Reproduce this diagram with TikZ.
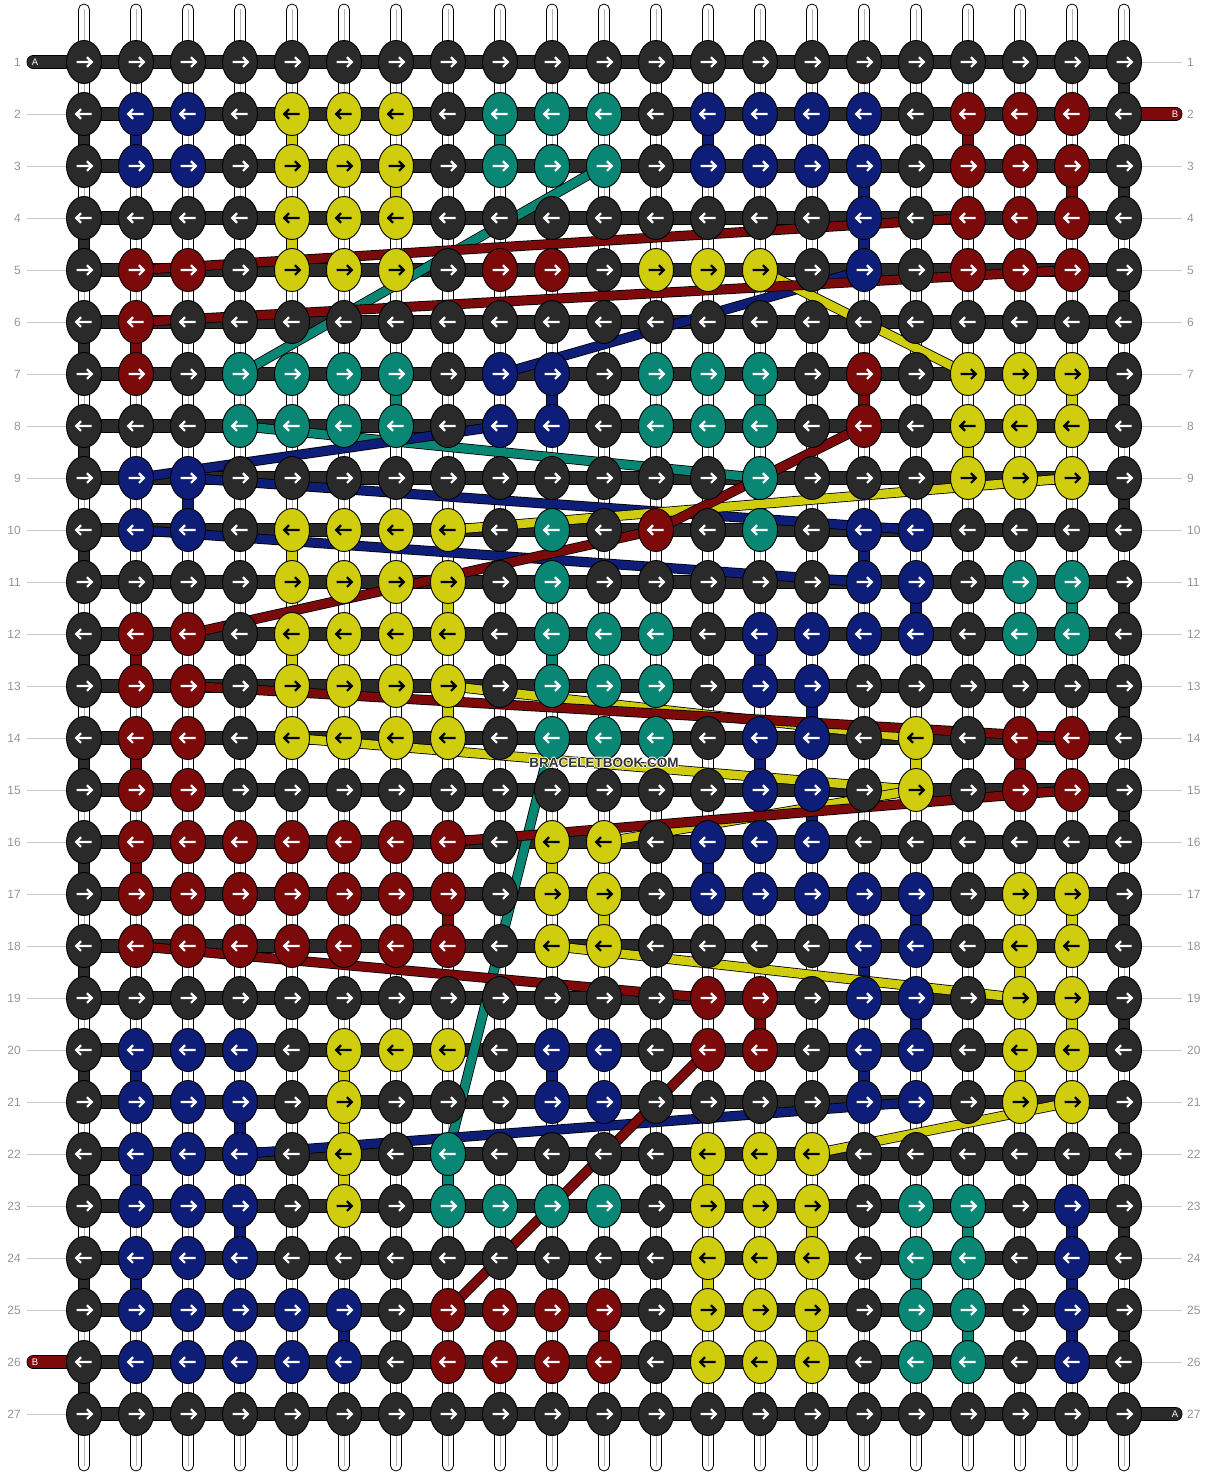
\documentclass[tikz,border=0pt]{standalone}
\usepackage{fontspec}
\setmainfont{Liberation Sans}
\usepackage{xstring}
\usetikzlibrary{shapes.geometric}
\definecolor{cK}{RGB}{42,42,42}
\definecolor{cB}{RGB}{14,30,120}
\definecolor{cY}{RGB}{208,204,14}
\definecolor{cT}{RGB}{10,134,116}
\definecolor{cR}{RGB}{124,10,10}
\colorlet{aK}{white}\colorlet{aB}{white}\colorlet{aT}{white}\colorlet{aR}{white}\colorlet{aY}{black}
\definecolor{lblc}{RGB}{150,150,150}
\definecolor{llc}{RGB}{200,200,200}
\begin{document}
\begin{tikzpicture}[x=1pt,y=-1pt,
  knot/.style={ellipse,draw=black,line width=0.9pt,minimum width=35pt,minimum height=43pt,inner sep=0pt},
  hbar/.style={fill=cK,draw=black,line width=0.7pt},
  vseg/.style={fill=#1,draw=black,line width=0.7pt},
  diag/.style={draw=black,line width=0.8pt,double=#1,double distance=8.5pt},
  arr/.style={line width=2.2pt,line join=miter},
  lbl/.style={text=lblc,font=\fontsize{12}{12}\selectfont,inner sep=0pt},
  lline/.style={draw=llc,line width=0.9pt},
  stub/.style={fill=#1,draw=black,line width=0.7pt,rounded corners=6pt},
  stubtxt/.style={text=white,font=\fontsize{9.5}{9.5}\selectfont,inner sep=0pt}]
\fill[white] (0,0) rectangle (1208,1476);
\useasboundingbox (0,0) rectangle (1208,1476);
% grid coordinates
\foreach \r in {1,...,27}{\foreach \c in {1,...,21}{
  \coordinate (p-\r-\c) at ({84+52*(\c-1)},{62+52*(\r-1)});}}
% vertical white strings
\foreach \c in {1,...,21}{
  \pgfmathsetmacro\xx{84+52*(\c-1)}
  \draw[fill=white,draw=black,line width=0.8pt,rounded corners=5.5pt] (\xx-5.5,4) rectangle (\xx+5.5,1471);
  \draw[black!30,line width=1pt] (\xx+0.8,9) -- (\xx+0.8,1466);
}
% row labels and guide lines
\foreach \r in {1,...,27}{
  \pgfmathsetmacro\yy{62+52*(\r-1)}
  \node[lbl,anchor=east] (ln-\r) at (21,\yy) {\r};
  \node[lbl,anchor=west] (rn-\r) at (1187,\yy) {\r};
}
\foreach \r in {2,...,25,27}{\pgfmathsetmacro\yy{62+52*(\r-1)}\draw[lline] (27,\yy) -- (66,\yy);}
\foreach \r in {1,3,4,...,26}{\pgfmathsetmacro\yy{62+52*(\r-1)}\draw[lline] (1142,\yy) -- (1182,\yy);}
% stubs A / B
\draw[stub=cK] (27,55.5) rectangle (80,68.5);
\node[stubtxt] (sA1) at (35,62.5) {A};
\draw[stub=cR] (1128,107.5) rectangle (1182,120.5);
\node[stubtxt] (sB1) at (1175,114.5) {B};
\draw[stub=cR] (27,1355.5) rectangle (80,1368.5);
\node[stubtxt] (sB2) at (35,1362.5) {B};
\draw[stub=cK] (1128,1407.5) rectangle (1182,1420.5);
\node[stubtxt] (sA2) at (1175,1414.5) {A};
% horizontal strings
\foreach \r in {1,...,27}{
  \draw[hbar] ([yshift=6.5pt]p-\r-1) rectangle ([yshift=-6.5pt]p-\r-21);}
% edge turns of background string
\foreach \r in {1,3,...,25}{\pgfmathtruncatemacro\rn{\r+1}
  \draw[vseg=cK] ([xshift=-5.5pt]p-\r-21) rectangle ([xshift=5.5pt]p-\rn-21);}
\foreach \r in {2,4,...,26}{\pgfmathtruncatemacro\rn{\r+1}
  \draw[vseg=cK] ([xshift=-5.5pt]p-\r-1) rectangle ([xshift=5.5pt]p-\rn-1);}
% coloured vertical passes
\foreach \c/\r/\cl in {2/2/B,13/2/B,16/3/B,16/4/B,10/7/B,3/9/B,16/10/B,17/11/B,14/12/B,15/13/B,14/14/B,15/15/B,13/16/B,17/17/B,16/18/B,17/19/B,2/20/B,10/20/B,16/20/B,4/21/B,2/22/B,4/23/B,20/23/B,2/24/B,20/24/B,6/25/B,20/25/B,
  9/2/T,7/7/T,14/7/T,14/9/T,10/10/T,20/11/T,10/12/T,12/13/T,8/22/T,18/23/T,17/24/T,18/25/T,
  5/2/Y,7/3/Y,5/4/Y,20/7/Y,18/8/Y,5/10/Y,8/11/Y,5/12/Y,8/13/Y,17/14/Y,10/16/Y,11/17/Y,20/17/Y,19/18/Y,20/19/Y,6/20/Y,19/20/Y,6/21/Y,6/22/Y,13/22/Y,15/23/Y,13/24/Y,15/25/Y,
  18/2/R,20/3/R,2/6/R,16/7/R,2/12/R,2/14/R,19/14/R,2/16/R,8/17/R,14/19/R,11/25/R}{
  \pgfmathtruncatemacro\rn{\r+1}
  \draw[vseg=c\cl] ([xshift=-5.5pt]p-\r-\c) rectangle ([xshift=5.5pt]p-\rn-\c);}
% hidden diagonal carries
\foreach \a/\b/\cl in {3-11/7-4/T,8-4/9-14/T,14-10/22-8/T,
  5-16/7-9/B,8-9/9-2/B,9-3/10-17/B,10-2/11-16/B,21-17/22-4/B,
  5-14/7-18/Y,9-20/10-8/Y,13-8/14-17/Y,14-5/15-17/Y,15-17/16-11/Y,18-10/19-19/Y,21-20/22-15/Y,
  4-18/5-2/R,5-20/6-2/R,8-16/10-12/R,10-12/12-3/R,13-3/14-20/R,15-20/16-8/R,18-2/19-13/R,20-13/25-8/R}{
  \draw[diag=c\cl] (p-\a) -- (p-\b);}
% knots
\foreach \r/\s in {
1/KKKKKKKKKKKKKKKKKKKKK,
2/KBBKYYYKTTTKBBBBKRRRK,
3/KBBKYYYKTTTKBBBBKRRRK,
4/KKKKYYYKKKKKKKKBKRRRK,
5/KRRKYYYKRRKYYYKBKRRRK,
6/KRKKKKKKKKKKKKKKKKKKK,
7/KRKTTTTKBBKTTTKRKYYYK,
8/KKKTTTTKBBKTTTKRKYYYK,
9/KBBKKKKKKKKKKTKKKYYYK,
10/KBBKYYYYKTKRKTKBBKKKK,
11/KKKKYYYYKTKKKKKBBKTTK,
12/KRRKYYYYKTTTKBBBBKTTK,
13/KRRKYYYYKTTTKBBKKKKKK,
14/KRRKYYYYKTTTKBBKYKRRK,
15/KRRKKKKKKKKKKBBKYKRRK,
16/KRRRRRRRKYYKBBBKKKKKK,
17/KRRRRRRRKYYKBBBBBKYYK,
18/KRRRRRRRKYYKKKKBBKYYK,
19/KKKKKKKKKKKKRRKBBKYYK,
20/KBBBKYYYKBBKRRKBBKYYK,
21/KBBBKYKKKBBKKKKBBKYYK,
22/KBBBKYKTKKKKYYYKKKKKK,
23/KBBBKYKTTTTKYYYKTTKBK,
24/KBBBKKKKKKKKYYYKTTKBK,
25/KBBBBBKRRRRKYYYKTTKBK,
26/KBBBBBKRRRRKYYYKTTKBK,
27/KKKKKKKKKKKKKKKKKKKKK}{
  \ifodd\r\relax\def\dir{1}\else\def\dir{-1}\fi
  \foreach \c in {1,...,21}{
    \StrChar{\s}{\c}[\ch]
    \node[knot,fill=c\ch] (k-\r-\c) at (p-\r-\c) {};
    \draw[arr,draw=a\ch,shift={(p-\r-\c)},xscale=\dir] (-7.5,0) -- (7,0) (3,-4.8) -- (7.8,0) -- (3,4.8);
  }
}
% watermark
\foreach \dx/\dy in {-1/0,1/0,0/-1,0/1}{
  \node[font=\bfseries\fontsize{13.5}{14}\selectfont,text=white] at (604+\dx,763+\dy) {BRACELETBOOK.COM};}
\node[font=\bfseries\fontsize{13.5}{14}\selectfont,text=black!80] (wm) at (604,763) {BRACELETBOOK.COM};
\end{tikzpicture}
\end{document}
